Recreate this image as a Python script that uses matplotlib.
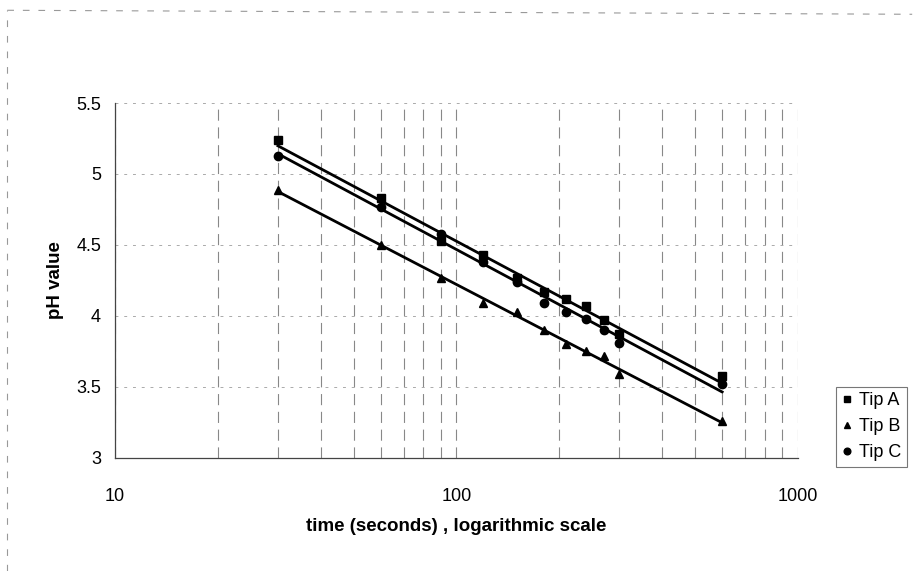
import numpy as np
import matplotlib
matplotlib.use("Agg")
from matplotlib import pyplot as plt
from matplotlib.lines import Line2D

plt.rcParams['font.family'] = ['Liberation Sans', 'DejaVu Sans']

# time in seconds
time_s = [30, 60, 90, 120, 150, 180, 210, 240, 270, 300, 600]

tip_a = [5.24, 4.83, 4.53, 4.43, 4.27, 4.17, 4.12, 4.07, 3.97, 3.87, 3.58]
tip_b = [4.89, 4.50, 4.27, 4.09, 4.03, 3.90, 3.80, 3.75, 3.72, 3.59, 3.26]
tip_c = [5.13, 4.77, 4.58, 4.38, 4.24, 4.09, 4.03, 3.98, 3.90, 3.81, 3.52]

series = [("Tip A", tip_a, "s", 6), ("Tip B", tip_b, "^", 6), ("Tip C", tip_c, "o", 6)]

fig = plt.figure(figsize=(9.14, 5.71), dpi=100)
ax = fig.add_axes([0.1258, 0.198, 0.7472, 0.6216])

# faint dashed chart-area border (only left and top survive in the scan)
for xs, ys in [([0.008, 0.008], [0.0, 0.982]), ([0.008, 0.998], [0.982, 0.975])]:
    fig.lines.append(Line2D(xs, ys, transform=fig.transFigure,
                            color="#999999", lw=0.8, ls=(0, (6, 8))))

x = np.array(time_s, dtype=float)
handles = []
for name, vals, mk, ms in series:
    y = np.array(vals)
    h, = ax.plot(x, y, linestyle="none", marker=mk, ms=ms, color="black", label=name)
    handles.append(h)
    # logarithmic trendline
    a, b = np.polyfit(np.log(x), y, 1)
    xt = np.linspace(x.min(), x.max(), 50)
    ax.plot(xt, a * np.log(xt) + b, color="black", lw=2)

ax.set_xscale("log")
ax.set_xlim(10, 1000)
ax.set_ylim(3, 5.5)
ax.set_yticks([3, 3.5, 4, 4.5, 5, 5.5])
ax.set_yticklabels(["3", "3.5", "4", "4.5", "5", "5.5"])
ax.set_xticks([10, 100, 1000])
ax.set_xticklabels(["10", "100", "1000"])

ax.grid(True, which="both", axis="x", color="#888888", lw=0.8, ls=(0, (10, 6)))
ax.grid(True, which="major", axis="y", color="#aaaaaa", lw=0.7, ls=(0, (3, 6)))
ax.set_axisbelow(True)

for side in ["top", "right"]:
    ax.spines[side].set_visible(False)
ax.spines["left"].set_color("#444444")
ax.spines["bottom"].set_color("#444444")
ax.spines["left"].set_linewidth(0.9)
ax.spines["bottom"].set_linewidth(0.9)

ax.tick_params(axis="both", which="both", length=0, labelsize=13)
ax.tick_params(axis="x", pad=22)
ax.tick_params(axis="y", pad=10)

ax.set_xlabel("time (seconds) , logarithmic scale", fontsize=13.5, fontweight="bold", labelpad=9)
ax.set_ylabel("pH value", fontsize=13.5, fontweight="bold", labelpad=9)

leg = fig.legend(handles=handles, loc="upper left", bbox_to_anchor=(836 / 914, 1 - 387 / 571),
                 frameon=True, fancybox=False, fontsize=13, markerscale=0.8,
                 handlelength=0.6, handletextpad=0.4, borderpad=0.3, labelspacing=0.5,
                 borderaxespad=0)
leg.get_frame().set_edgecolor("#555555")
leg.get_frame().set_linewidth(0.8)

fig.savefig("out.png", dpi=100)
